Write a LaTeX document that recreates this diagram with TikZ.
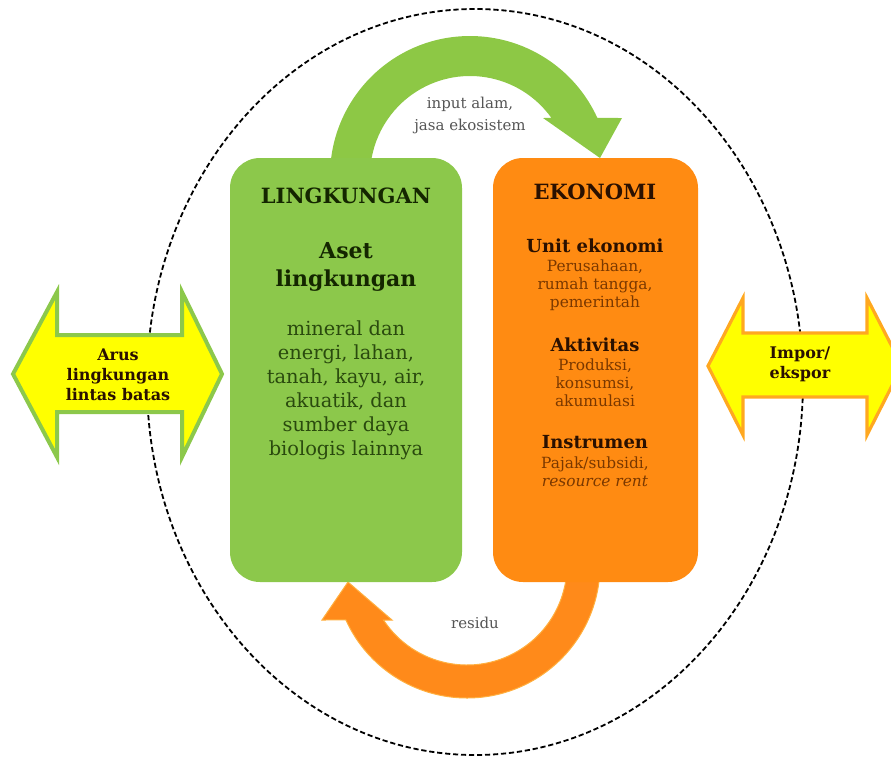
\documentclass[tikz,border=0pt]{standalone}
\usepackage{fontspec}
\setmainfont{DejaVu Serif}
\usetikzlibrary{calc}
\definecolor{boxgreen}{HTML}{8CC84B}
\definecolor{arcgreen}{HTML}{8DC845}
\definecolor{boxorange}{HTML}{FF8B12}
\definecolor{arcorange}{HTML}{FF8A1A}
\definecolor{arcorangeline}{HTML}{FFB040}
\definecolor{arrowyellow}{HTML}{FFFF00}
\definecolor{greenedge}{HTML}{8CC84B}
\definecolor{orangeedge}{HTML}{FFA820}
\definecolor{gtitle}{HTML}{142600}
\definecolor{gbody}{HTML}{2A4A0E}
\definecolor{otitle}{HTML}{2A1000}
\definecolor{obody}{HTML}{7A3800}
\definecolor{graytext}{HTML}{555555}
\begin{document}
\begin{tikzpicture}[x=0.5pt,y=-0.5pt,
  boundary/.style={draw=black,line width=0.9pt,dash pattern=on 2.6pt off 1.4pt},
  panel/.style={rounded corners=15pt,minimum height=212pt,inner sep=0pt},
  bigtitle/.style={inner sep=0pt,align=center,font=\fontsize{10.5}{12}\selectfont\bfseries},
  subtitle/.style={inner sep=0pt,align=center,font=\fontsize{9}{11}\selectfont\bfseries},
  smalltext/.style={inner sep=0pt,align=center,font=\fontsize{7.7}{9}\selectfont},
  bodytext/.style={inner sep=0pt,align=center,font=\fontsize{9.7}{12}\selectfont},
  arrowtext/.style={inner sep=0pt,align=center,font=\fontsize{8}{10}\selectfont\bfseries},
  flowtext/.style={inner sep=0pt,align=center,text=graytext,font=\fontsize{7.5}{11}\selectfont}]
\useasboundingbox (0,0) rectangle (891,757);
\clip (0,0) rectangle (891,757);

% dashed boundary
\draw[boundary] (475,382) ellipse [x radius=328, y radius=373];

% side double arrows
\filldraw[fill=arrowyellow,draw=greenedge,line width=2pt,line join=miter]
  (13,374) -- (57,292) -- (57,335) -- (182,335) -- (182,292) -- (222,374)
  -- (182,457) -- (182,412) -- (57,412) -- (57,457) -- cycle;
\filldraw[fill=arrowyellow,draw=orangeedge,line width=1.6pt,line join=miter]
  (708,366) -- (743,298) -- (743,333) -- (867,333) -- (867,298) -- (902,366)
  -- (867,435) -- (867,397) -- (743,397) -- (743,435) -- cycle;
\node[arrowtext,text=otitle] (arus) at (118,375) {Arus\\lingkungan\\lintas batas};
\node[arrowtext,text=otitle] (impor) at (800,364) {Impor/\\ekspor};

% curved flow arrows
\coordinate (gc) at (470,176);
\coordinate (oc) at (467,565);
\fill[arcgreen] ($(gc)+(180:140)$) arc[start angle=180,end angle=335.5,radius=140]
  -- (622,118) -- (600,158) -- (543,118)
  -- ($(gc)+(324.5:100)$) arc[start angle=324.5,end angle=180,radius=100] -- cycle;
\filldraw[fill=arcorange,draw=arcorangeline,line width=0.5pt]
  ($(oc)+(0:133)$) arc[start angle=0,end angle=155.6,radius=133]
  -- (322,620) -- (348,582) -- (392,620)
  -- ($(oc)+(146.6:100)$) arc[start angle=146.6,end angle=0,radius=100] -- cycle;

% panels
\node[panel,fill=boxgreen,minimum width=116pt] (ling) at (346,370) {};
\node[panel,fill=boxorange,minimum width=102.5pt] (eko) at (595.5,370) {};

% flow labels
\node[flowtext] (input) at (470,115) {input alam,\\jasa ekosistem};
\node[flowtext] (residu) at (475,623) {residu};

% environment panel text
\node[bigtitle,text=gtitle] (lingt) at (346,196) {LINGKUNGAN};
\node[bigtitle,text=gtitle,font=\fontsize{11}{14}\selectfont\bfseries] (aset) at (346,267) {Aset\\lingkungan};
\node[bodytext,text=gbody] (asetbody) at (346,390) {mineral dan\\energi, lahan,\\tanah, kayu, air,\\akuatik, dan\\sumber daya\\biologis lainnya};

% economy panel text
\node[bigtitle,text=otitle] (ekot) at (595,192) {EKONOMI};
\node[subtitle,text=otitle] (unit) at (595,246) {Unit ekonomi};
\node[smalltext,text=obody] (unitb) at (595,285) {Perusahaan,\\rumah tangga,\\pemerintah};
\node[subtitle,text=otitle] (akt) at (595,345) {Aktivitas};
\node[smalltext,text=obody] (aktb) at (595,383) {Produksi,\\konsumsi,\\akumulasi};
\node[subtitle,text=otitle] (ins) at (595,442) {Instrumen};
\node[smalltext,text=obody] (insb) at (595,472) {Pajak/subsidi,\\\textit{resource rent}};
\end{tikzpicture}
\end{document}
